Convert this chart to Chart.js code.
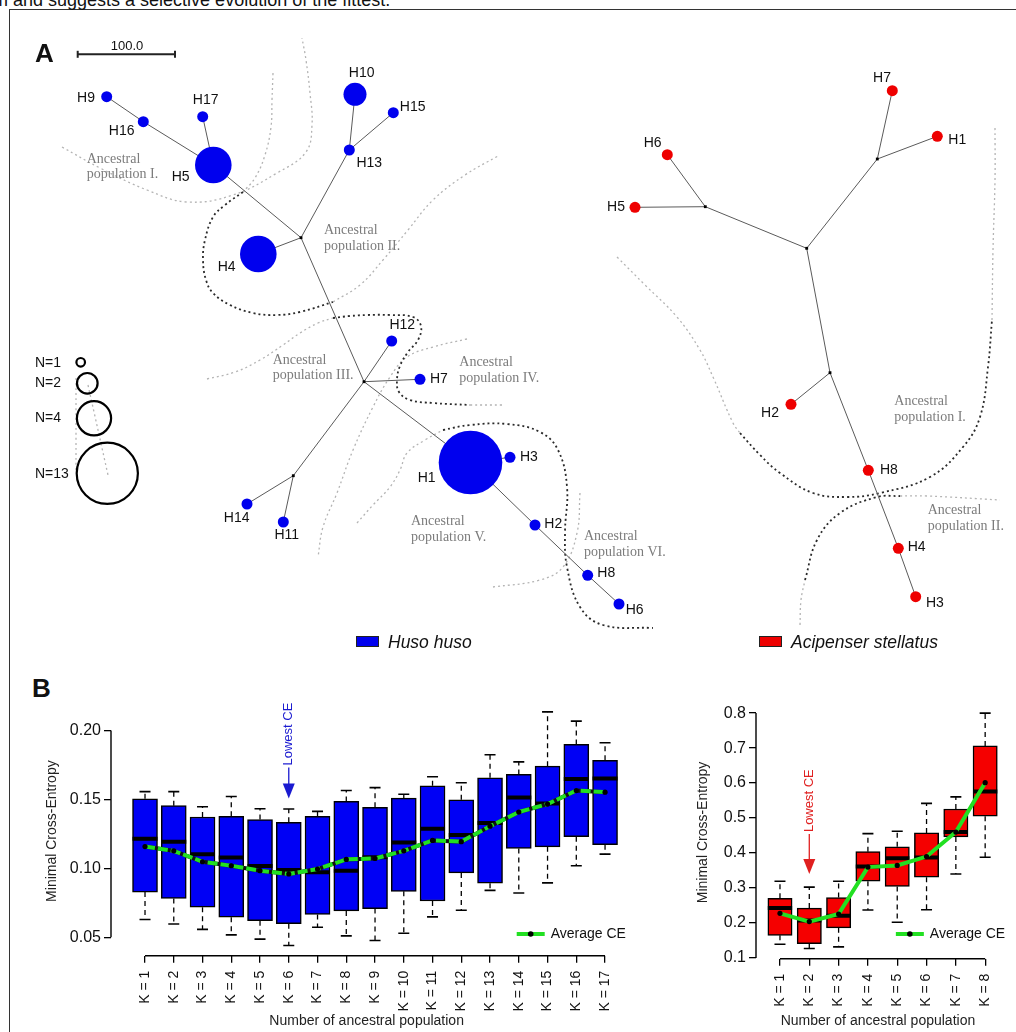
<!DOCTYPE html>
<html>
<head>
<meta charset="utf-8">
<script src="https://cdn.jsdelivr.net/npm/chart.js@4.4.1/dist/chart.umd.min.js"></script>
<style>
  html, body { margin: 0; padding: 0; background: #fff; }
  body { width: 1016px; height: 1032px; position: relative; overflow: hidden;
         font-family: "Liberation Sans", Arial, Helvetica, sans-serif; color: #111; }
  .abs { position: absolute; }
  #frame { left: 9px; top: 9px; width: 1030px; height: 1050px; border: 1.5px solid #333; box-sizing: border-box; }
  #cut { left: -7px; top: -9px; font-size: 18px; line-height: 18px; white-space: nowrap; }
  .panel { font-weight: bold; font-size: 26px; line-height: 26px; }
  .swatch { width: 23px; height: 11px; border: 1px solid #222; box-sizing: border-box; }
  .sp { font-style: italic; font-size: 17.5px; line-height: 20px; white-space: nowrap; }
</style>
</head>
<body>
<div id="frame" class="abs"></div>
<div id="cut" class="abs">m and suggests a selective evolution of the fittest.</div>
<canvas id="net" class="abs" width="1016" height="665" style="left:0;top:0"></canvas>
<div class="abs panel" style="left:35px;top:40px">A</div>
<div class="abs swatch" style="left:356px;top:636px;background:#0000ee"></div>
<div class="abs sp" style="left:388px;top:632px">Huso huso</div>
<div class="abs swatch" style="left:759px;top:636px;background:#ee0000"></div>
<div class="abs sp" style="left:791px;top:632px">Acipenser stellatus</div>
<div class="abs panel" style="left:32px;top:675px">B</div>
<canvas id="boxL" class="abs" width="610" height="342" style="left:30px;top:690px"></canvas>
<canvas id="boxR" class="abs" width="356" height="342" style="left:660px;top:690px"></canvas>

<script>
Chart.defaults.font.family = '"Liberation Sans", Arial, Helvetica, sans-serif';
Chart.defaults.color = '#111';

// ---- Panel A: haplotype networks (layout positions) ----
const blueHaps = ['H1','H2','H3','H4','H5','H6','H7','H8','H9','H10','H11','H12','H13','H14','H15','H16','H17'];
const blueX = [470.5, 535, 510, 258.3, 213.3, 619, 420, 587.7, 106.7, 355, 283.3, 391.7, 349.3, 247, 393.3, 143.3, 202.7];
const blueY = [462.5, 525, 457.3, 254, 165, 604, 379.3, 575.3, 96.7, 94.3, 522, 341, 150, 504, 112.7, 121.7, 116.7];
const blueN = [13, 1, 1, 4, 4, 1, 1, 1, 1, 2, 1, 1, 1, 1, 1, 1, 1];
const blueJunctions = ['J1','J2','J3'];
const blueJX = [301, 364, 293.3];
const blueJY = [237.7, 381.7, 475.7];
const blueEdges = [['H9','H16'],['H16','H5'],['H17','H5'],['H5','J1'],['H4','J1'],['H13','J1'],['H10','H13'],['H15','H13'],
  ['J1','J2'],['J2','H12'],['J2','H7'],['J2','J3'],['J3','H14'],['J3','H11'],['J2','H1'],['H1','H3'],['H1','H2'],['H2','H8'],['H8','H6']];

const redHaps = ['H1','H2','H3','H4','H5','H6','H7','H8'];
const redX = [937.3, 791, 915.7, 898.3, 635, 667.3, 892.3, 868.3];
const redY = [136.3, 404.3, 596.7, 548.3, 207.3, 154.7, 90.7, 470.3];
const redN = [1, 1, 1, 1, 1, 1, 1, 1];
const redJunctions = ['J1','J2','J3','J4'];
const redJX = [877.3, 705.3, 806.7, 830];
const redJY = [159, 206.7, 248.3, 372.7];
const redEdges = [['H7','J1'],['H1','J1'],['J1','J3'],['H6','J2'],['H5','J2'],['J2','J3'],['J3','J4'],['J4','H2'],['J4','H8'],['H8','H4'],['H4','H3']];

const legendN = [1, 2, 4, 13];

// ---- Panel B: cross-entropy box plots ----
const kHuso = [1,2,3,4,5,6,7,8,9,10,11,12,13,14,15,16,17];
const husoHi  = [0.1557,0.1557,0.1447,0.1522,0.1433,0.1431,0.1414,0.1565,0.1586,0.1538,0.1665,0.1622,0.1825,0.1773,0.2136,0.2069,0.1912];
const husoQ3  = [0.1505,0.1455,0.1373,0.1378,0.1354,0.1335,0.1378,0.1486,0.1443,0.1510,0.1600,0.1498,0.1658,0.1682,0.1742,0.1900,0.1785];
const husoMed = [0.1215,0.1194,0.1103,0.1079,0.1017,0.0988,0.0971,0.0983,0.1080,0.1187,0.1287,0.1242,0.1330,0.1514,0.1470,0.1648,0.1653];
const husoQ1  = [0.0828,0.0782,0.0718,0.0646,0.0620,0.0598,0.0665,0.0691,0.0708,0.0833,0.0763,0.0967,0.0892,0.1144,0.1156,0.1230,0.1172];
const husoLo  = [0.0629,0.0596,0.0557,0.0517,0.0486,0.0440,0.0572,0.0510,0.0476,0.0529,0.0648,0.0696,0.0840,0.0821,0.0895,0.1019,0.1103];
const husoAvg = [0.1158,0.1127,0.1048,0.1019,0.0983,0.0959,0.0995,0.1065,0.1072,0.1127,0.1203,0.1194,0.1306,0.1409,0.1467,0.1565,0.1553];
const husoTicks = [0.05, 0.10, 0.15, 0.20];

const kStel = [1,2,3,4,5,6,7,8];
const stelHi  = [0.3196,0.3027,0.3196,0.4556,0.4622,0.5420,0.5607,0.8000];
const stelQ3  = [0.2708,0.2426,0.2727,0.4040,0.4181,0.4575,0.5260,0.7062];
const stelMed = [0.2426,0.2070,0.2210,0.3618,0.3852,0.3870,0.4603,0.5757];
const stelQ1  = [0.1647,0.1413,0.1863,0.3196,0.3046,0.3308,0.4462,0.5054];
const stelLo  = [0.1394,0.1272,0.1319,0.2370,0.2023,0.2379,0.3402,0.3881];
const stelAvg = [0.2276,0.2040,0.2257,0.3599,0.3646,0.3900,0.4600,0.6011];
const stelTicks = [0.1, 0.2, 0.3, 0.4, 0.5, 0.6, 0.7, 0.8];

// ---------- styles / placement (not data) ----------
const radiusForN = { 1: 5.5, 2: 11.5, 4: 18.3, 13: 31.8 };
const legendX = [80.7, 87.3, 94, 107.3];
const legendY = [362.3, 383.3, 418.3, 473.3];
const legendLabelY = [362.7, 382.7, 418.3, 474];

const blueLabelPos = [[426.7,477.7,'center'],[544.3,524,'left'],[520,457.3,'left'],[226.7,266.7,'center'],[180.7,176.7,'center'],
  [625.7,610.3,'left'],[430,379.3,'left'],[597.3,573,'left'],[86,98,'center'],[361.7,72.7,'center'],[286.7,535.3,'center'],
  [402.3,325,'center'],[369.3,162.7,'center'],[236.7,518.3,'center'],[412.7,106.7,'center'],[121.7,131,'center'],[205.7,100,'center']];
const redLabelPos = [[948.3,140,'left'],[770,413.3,'center'],[926,603.3,'left'],[907.7,546.7,'left'],[625,207.3,'right'],
  [652.7,143.3,'center'],[882,78.3,'center'],[880,470.3,'left']];
const ancestralLabels = [
  ['population I.', 86.7, 159], ['population II.', 324, 230.7], ['population III.', 272.7, 360],
  ['population IV.', 459.3, 362.7], ['population V.', 411, 521.7], ['population VI.', 584, 536.7],
  ['population I.', 894.3, 401.7], ['population II.', 927.7, 510.7]
];

// dotted population boundaries (light grey and dark parts)
const lightCurves = [
  [[62,147],[100,168],[147,190],[187,202],[233,195],[277,173],[306,152],[312,125],[310,93],[306,60],[302,38]],
  [[273,73],[272,100],[271,127],[265,155],[255,178],[243,192]],
  [[333,302],[360,285],[383,260],[408,230],[433,200],[465,175],[498,156]],
  [[207,379],[235,372],[260,360],[283,345],[300,333],[318,323],[333,318]],
  [[470,405],[502,405]],
  [[467,339],[433,347],[407,357],[390,377],[373,407],[353,450],[337,493],[323,527],[318,557]],
  [[357,523],[373,505],[390,487],[400,470],[407,453],[425,440],[443,430]],
  [[580,493],[577,533],[563,567],[540,580],[493,587]],
  [[617,257],[645,285],[677,317],[700,350],[713,377],[733,423],[740,433]],
  [[992,320],[993,250],[995,180],[995,128]],
  [[800,625],[801,600],[805,580]],
  [[900,496],[927,496],[1000,500]],
  [[76,378],[76,470]],
  [[88,385],[108,475]]
];
const darkCurves = [
  [[243,192],[225,205],[213,217],[205,240],[203,260],[206,280],[213,293],[230,305],[253,313],[277,315],[300,312],[333,302]],
  [[333,318],[350,316],[367,315],[390,315],[413,317],[421,326],[418,340],[408,352],[400,366],[397,380],[399,392],[410,400],[433,403],[470,405]],
  [[443,430],[470,425],[507,424],[540,432],[558,450],[567,487],[565,533],[567,567],[580,607],[603,625],[653,628]],
  [[740,433],[760,455],[780,473],[813,493],[847,497],[880,493],[930,477],[963,447],[980,417],[988,367],[992,320]],
  [[805,580],[817,540],[840,513],[877,497],[900,496]]
];

function nodeLookup(haps, hx, hy, js, jx, jy) {
  const m = {};
  haps.forEach((h, i) => { m[h] = { x: hx[i], y: hy[i] }; });
  js.forEach((j, i) => { m[j] = { x: jx[i], y: jy[i] }; });
  return m;
}
function edgeData(edges, m) {
  const out = [];
  edges.forEach(([a, b]) => { out.push({ x: m[a].x, y: m[a].y }, { x: m[b].x, y: m[b].y }, { x: m[b].x, y: null }); });
  return out;
}
const blueMap = nodeLookup(blueHaps, blueX, blueY, blueJunctions, blueJX, blueJY);
const redMap = nodeLookup(redHaps, redX, redY, redJunctions, redJX, redJY);

const curveSets = [];
lightCurves.forEach(c => curveSets.push({
  data: c.map(p => ({ x: p[0], y: p[1] })), showLine: true, tension: 0.4, pointRadius: 0,
  borderColor: '#b4b4b4', borderWidth: 1.3, borderDash: [2, 3], order: 10
}));
darkCurves.forEach(c => curveSets.push({
  data: c.map(p => ({ x: p[0], y: p[1] })), showLine: true, tension: 0.4, pointRadius: 0,
  borderColor: '#2a2a2a', borderWidth: 1.8, borderDash: [2, 3], order: 9
}));

const netText = {
  id: 'netText',
  afterDatasetsDraw(chart) {
    const { ctx, scales: { x, y } } = chart;
    ctx.save();
    ctx.textBaseline = 'middle';
    ctx.fillStyle = '#111';
    ctx.font = '14px "Liberation Sans", Arial, sans-serif';
    const put = (t, px, py, al) => { ctx.textAlign = al; ctx.fillText(t, x.getPixelForValue(px), y.getPixelForValue(py)); };
    blueHaps.forEach((h, i) => put(h, ...blueLabelPos[i]));
    redHaps.forEach((h, i) => put(h, ...redLabelPos[i]));
    legendN.forEach((n, i) => put('N=' + n, 35, legendLabelY[i], 'left'));
    ctx.font = '13px "Liberation Sans", Arial, sans-serif';
    put('100.0', 127, 46.5, 'center');
    ctx.fillStyle = '#7c7c7c';
    ctx.font = '14px "Liberation Serif", "Times New Roman", serif';
    ancestralLabels.forEach(([t, px, py]) => {
      put('Ancestral', px, py, 'left');
      put(t, px, py + 15.5, 'left');
    });
    ctx.restore();
  }
};

new Chart(document.getElementById('net'), {
  type: 'scatter',
  data: {
    datasets: [
      ...curveSets,
      { data: edgeData(blueEdges, blueMap).concat(edgeData(redEdges, redMap)), showLine: true, spanGaps: false,
        pointRadius: 0, borderColor: '#5a5a5a', borderWidth: 1, order: 8 },
      { data: blueJunctions.map((j, i) => ({ x: blueJX[i], y: blueJY[i] })).concat(redJunctions.map((j, i) => ({ x: redJX[i], y: redJY[i] }))),
        pointStyle: 'rect', pointRadius: 2, backgroundColor: '#000', borderWidth: 0, order: 6 },
      { data: blueHaps.map((h, i) => ({ x: blueX[i], y: blueY[i] })), pointRadius: c => radiusForN[blueN[c.dataIndex]],
        backgroundColor: '#0000ee', borderWidth: 0, order: 4 },
      { data: redHaps.map((h, i) => ({ x: redX[i], y: redY[i] })), pointRadius: c => radiusForN[redN[c.dataIndex]],
        backgroundColor: '#ee0000', borderWidth: 0, order: 4 },
      { data: legendN.map((n, i) => ({ x: legendX[i], y: legendY[i] })), pointRadius: c => radiusForN[legendN[c.dataIndex]] - 1.2,
        backgroundColor: 'rgba(0,0,0,0)', borderColor: '#000', borderWidth: 2.2, order: 4 },
      { data: [{ x: 77.7, y: 54.3 }, { x: 175, y: 54.3 }], showLine: true, borderColor: '#222', borderWidth: 2,
        pointStyle: 'line', pointRotation: 90, pointRadius: 3.5, pointBorderWidth: 2, pointBorderColor: '#222', order: 4 }
    ]
  },
  options: {
    responsive: false, animation: false, events: [],
    layout: { padding: 0, autoPadding: false },
    plugins: { legend: { display: false }, tooltip: { enabled: false } },
    scales: {
      x: { type: 'linear', display: false, min: 0, max: 1016 },
      y: { type: 'linear', display: false, min: 0, max: 665, reverse: true }
    }
  },
  plugins: [netText]
});

// ---------- box plots ----------
function boxChart(id, o) {
  const whisk = [];
  o.k.forEach((v, i) => {
    whisk.push({ x: v, y: o.q3[i] }, { x: v, y: o.hi[i] }, { x: v, y: null },
               { x: v, y: o.q1[i] }, { x: v, y: o.lo[i] }, { x: v, y: null });
  });
  const caps = [];
  o.k.forEach((v, i) => { caps.push({ x: v, y: o.hi[i] }, { x: v, y: o.lo[i] }); });
  const pts = arr => o.k.map((v, i) => ({ x: v, y: arr[i] }));
  const lowIdx = o.avg.indexOf(Math.min(...o.avg));

  const datasets = [
    { type: 'line', data: whisk, spanGaps: false, borderColor: '#000', borderWidth: 1.3, borderDash: [5, 4],
      pointRadius: 0, order: 6 },
    { type: 'bar', data: o.k.map((v, i) => ({ x: v, y: [o.q1[i], o.q3[i]] })), backgroundColor: o.fill,
      borderColor: '#000', borderWidth: 1.5, borderSkipped: false, barThickness: o.barW, order: 5 },
    { type: 'line', data: caps, showLine: false, pointStyle: 'line', pointRadius: 5.5,
      pointBorderWidth: 1.6, pointBorderColor: '#000', order: 4 },
    { type: 'line', data: pts(o.med), showLine: false, pointStyle: 'line', pointRadius: o.barW / 2,
      pointBorderWidth: 4, pointBorderColor: '#000', order: 3 }
  ];
  if (o.dashed) {
    datasets.push({ type: 'line', data: pts(o.avg), borderColor: '#111', borderWidth: 4, pointRadius: 0, order: 2 });
  }
  datasets.push({ type: 'line', data: pts(o.avg), borderColor: '#22e022', borderWidth: 4,
    borderDash: o.dashed ? [10, 3] : [], pointRadius: 2.6, pointBackgroundColor: '#000', pointBorderWidth: 0, order: 1 });

  const extras = {
    id: 'boxExtras',
    afterDatasetsDraw(chart) {
      const { ctx, chartArea: ca, scales: { x, y } } = chart;
      ctx.save();
      ctx.strokeStyle = '#000';
      ctx.lineWidth = 1.4;
      ctx.beginPath();
      ctx.moveTo(x.getPixelForValue(o.k[0]), ca.bottom);
      ctx.lineTo(x.getPixelForValue(o.k[o.k.length - 1]), ca.bottom);
      ctx.moveTo(ca.left, y.getPixelForValue(o.ticks[0]));
      ctx.lineTo(ca.left, y.getPixelForValue(o.ticks[o.ticks.length - 1]));
      ctx.stroke();

      // lowest CE arrow
      const ax = x.getPixelForValue(o.k[lowIdx]);
      const tip = y.getPixelForValue(o.hi[lowIdx]) - o.arrowGap;
      const top = tip - o.shaft;
      ctx.strokeStyle = o.note;
      ctx.fillStyle = o.note;
      ctx.lineWidth = 1.3;
      ctx.beginPath();
      ctx.moveTo(ax, top);
      ctx.lineTo(ax, tip - 12);
      ctx.stroke();
      ctx.beginPath();
      ctx.moveTo(ax - 6, tip - 15);
      ctx.lineTo(ax + 6, tip - 15);
      ctx.lineTo(ax, tip);
      ctx.closePath();
      ctx.fill();
      ctx.save();
      ctx.translate(ax, top - 2);
      ctx.rotate(-Math.PI / 2);
      ctx.textAlign = 'left';
      ctx.textBaseline = 'middle';
      ctx.font = '13px "Liberation Sans", Arial, sans-serif';
      ctx.fillText('Lowest CE', 0, 0);
      ctx.restore();

      // legend
      const lx = ca.right + o.legDx, ly = ca.bottom + o.legDy;
      ctx.strokeStyle = '#22e022';
      ctx.lineWidth = 4;
      ctx.beginPath();
      ctx.moveTo(lx, ly);
      ctx.lineTo(lx + 28, ly);
      ctx.stroke();
      ctx.fillStyle = '#000';
      ctx.beginPath();
      ctx.arc(lx + 14, ly, 2.8, 0, Math.PI * 2);
      ctx.fill();
      ctx.fillStyle = '#111';
      ctx.font = '14px "Liberation Sans", Arial, sans-serif';
      ctx.textAlign = 'left';
      ctx.textBaseline = 'middle';
      ctx.fillText('Average CE', lx + 34, ly);
      ctx.restore();
    }
  };

  return new Chart(document.getElementById(id), {
    type: 'bar',
    data: { datasets },
    options: {
      responsive: false, animation: false, events: [],
      layout: { padding: { left: 0, top: o.padTop, right: o.padRight, bottom: 0 } },
      plugins: { legend: { display: false }, tooltip: { enabled: false } },
      scales: {
        x: {
          type: 'linear', min: o.xMin, max: o.xMax, offset: false,
          afterBuildTicks: s => { s.ticks = o.k.map(v => ({ value: v })); },
          afterFit: s => { s.height = o.xAxisH; },
          border: { display: false },
          grid: { offset: false, drawOnChartArea: false, drawTicks: true, tickLength: 7, color: '#000', lineWidth: 1.3 },
          ticks: { autoSkip: false, minRotation: 90, maxRotation: 90, padding: 8, color: '#111',
                   font: { size: 14 }, callback: v => 'K = ' + v },
          title: { display: true, text: 'Number of ancestral population', color: '#222',
                   font: { size: 14 }, padding: { bottom: 2 } }
        },
        y: {
          min: o.yMin, max: o.yMax,
          afterBuildTicks: s => { s.ticks = o.ticks.map(v => ({ value: v })); },
          afterFit: s => { s.width = o.yAxisW; },
          border: { display: false },
          grid: { drawOnChartArea: false, drawTicks: true, tickLength: 7, color: '#000', lineWidth: 1.3 },
          ticks: { padding: 3, color: '#111', font: { size: 16 }, callback: v => v.toFixed(o.dec) },
          title: { display: true, text: 'Minimal Cross-Entropy', color: '#222',
                   font: { size: 14 }, padding: { top: o.yTitlePad } }
        }
      }
    },
    plugins: [extras]
  });
}

boxChart('boxL', {
  k: kHuso, hi: husoHi, q3: husoQ3, med: husoMed, q1: husoQ1, lo: husoLo, avg: husoAvg, ticks: husoTicks,
  fill: '#0000f5', note: '#1a1ad0', dashed: true, dec: 2, barW: 25,
  xMin: -0.183, xMax: 17.6, yMin: 0.0366, yMax: 0.2175,
  padTop: 13.9, padRight: 17.7, xAxisH: 76.3, yAxisW: 81, yTitlePad: 13.6,
  arrowGap: 10.5, shaft: 31, legDx: -105.6, legDy: -21.7
});
boxChart('boxR', {
  k: kStel, hi: stelHi, q3: stelQ3, med: stelMed, q1: stelQ1, lo: stelLo, avg: stelAvg, ticks: stelTicks,
  fill: '#f50000', note: '#e02020', dashed: false, dec: 1, barW: 24.3,
  xMin: 0.182, xMax: 8.501, yMin: 0.098, yMax: 0.8199,
  padTop: 12.2, padRight: 16, xAxisH: 73.3, yAxisW: 96, yTitlePad: 34.3,
  arrowGap: 13, shaft: 40, legDx: -104, legDy: -24.7
});
</script>
</body>
</html>
